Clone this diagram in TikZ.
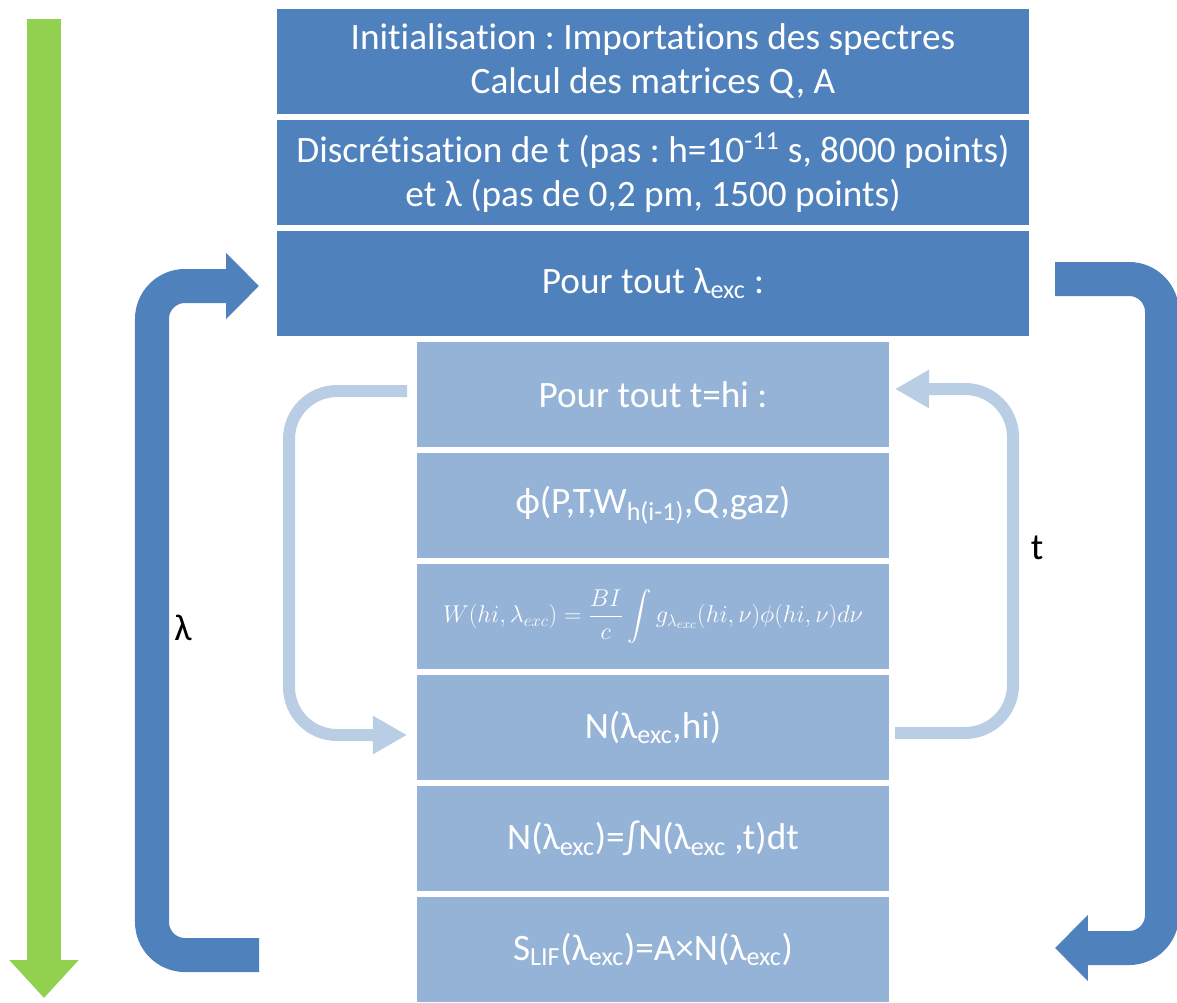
\documentclass[tikz,border=0pt]{standalone}
\usepackage{fontspec}
\setmainfont{Carlito}[Ligatures=CommonOff]
\usepackage{amsmath}
\usepackage{xcolor}
\usetikzlibrary{arrows.meta,positioning}
\frenchspacing

\definecolor{darkblue}{HTML}{4F81BD}
\definecolor{lightblue}{HTML}{95B3D7}
\definecolor{paleblue}{HTML}{B9CDE5}
\definecolor{limegreen}{HTML}{92D050}

\begin{document}
\begin{tikzpicture}[
    x=0.025cm, y=-0.025cm,
    node distance=0.15cm,
    block/.style={rectangle, minimum height=2.625cm, inner sep=0pt, outer sep=0pt, align=center, text=white, font=\fontsize{26.5}{31.3}\selectfont},
    mainblock/.style={block, fill=darkblue, minimum width=18.8cm},
    loopblock/.style={block, fill=lightblue, minimum width=11.775cm},
    bigarrow/.style={-{Triangle[length=0.82cm, width=1.6cm]}, line width=0.85cm, darkblue, rounded corners=0.825cm},
    smallarrow/.style={-{Triangle[length=0.85cm, width=0.9cm]}, line width=0.3cm, paleblue, rounded corners=1.2cm},
    greenarrow/.style={-{Triangle[length=0.95cm, width=1.675cm]}, line width=0.825cm, limegreen},
    looplabel/.style={font=\fontsize{26.5}{30}\selectfont},
]
\useasboundingbox (0,0) rectangle (1177,1002);

\node[mainblock] (init) at (653,61.5) {Initialisation : Importations des spectres\\Calcul des matrices Q, A};
\node[mainblock, below=of init] (discret) {Discrétisation de t (pas : h=10\textsuperscript{-11} s, 8000 points)\\et λ (pas de 0,2 pm, 1500 points)};
\node[mainblock, below=of discret] (lamloop) {Pour tout λ\textsubscript{exc} :};
\node[loopblock, below=of lamloop] (tloop) {Pour tout t=hi :};
\node[loopblock, below=of tloop] (phi) {ϕ(P,T,W\textsubscript{h(i-1)},Q,gaz)};
\node[loopblock, below=of phi] (wint) {\fontsize{18.3}{22}\selectfont$\displaystyle W(hi,\lambda_{exc})=\frac{BI}{c}\int g_{\lambda_{exc}}(hi,\nu)\phi(hi,\nu)d\nu$};
\node[loopblock, below=of wint] (nhi) {N(λ\textsubscript{exc},hi)};
\node[loopblock, below=of nhi] (nint) {N(λ\textsubscript{exc})=∫N(λ\textsubscript{exc} ,t)dt};
\node[loopblock, below=of nint] (slif) {S\textsubscript{LIF}(λ\textsubscript{exc})=A×N(λ\textsubscript{exc})};

\node[looplabel] (lamlabel) at (183,628) {λ};
\node[looplabel] (tlabel) at (1037,548) {t};

% free ends of the loop arrows
\coordinate (gtop) at (44,19);
\coordinate (gbot) at (44,998);
\coordinate (lamstart) at (259,955);
\coordinate (lamend) at (259,286);
\coordinate (retstart) at (1055,279);
\coordinate (retend) at (1055,948);
\coordinate (tstart) at (407,391);
\coordinate (tend) at (407,735);
\coordinate (backstart) at (895,733);
\coordinate (backend) at (895,389);

\draw[greenarrow] (gtop) -- (gbot);
\draw[bigarrow] (lamstart) -- (152,955) -- (152,286) -- (lamend);
\draw[bigarrow] (retstart) -- (1162,279) -- (1162,948) -- (retend);
\draw[smallarrow] (tstart) -- (289,391) -- (289,735) -- (tend);
\draw[smallarrow] (backstart) -- (1013,733) -- (1013,389) -- (backend);
\end{tikzpicture}
\end{document}
